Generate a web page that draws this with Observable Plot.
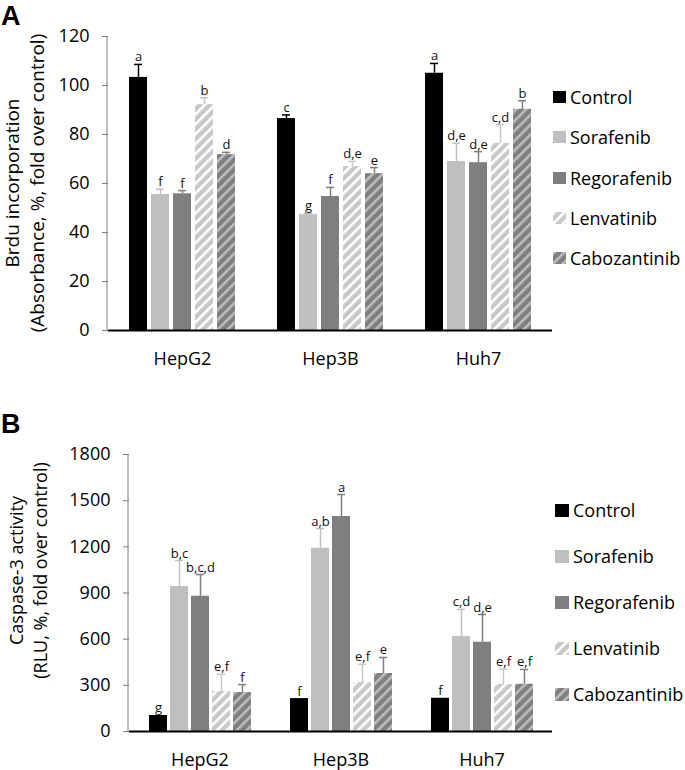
<!DOCTYPE html>
<html><head><meta charset="utf-8">
<script src="https://cdn.jsdelivr.net/npm/d3@7"></script>
<script src="https://cdn.jsdelivr.net/npm/@observablehq/plot@0.6"></script>
<style>
body{margin:0;background:#fff;font-family:"Open Sans",sans-serif;color:#000}
#wrap{position:relative;width:685px;height:770px;overflow:hidden;background:#fff}
.panel{position:absolute;left:0}
.tag{position:absolute;left:0;overflow:visible}
.leg{position:absolute;font-size:18px;display:flex;align-items:center;white-space:nowrap}
.leg svg{margin-right:4px}
</style></head><body>
<svg width="0" height="0" style="position:absolute">
  <defs>
    <pattern id="lenv" patternUnits="userSpaceOnUse" width="7" height="7" patternTransform="rotate(45)">
      <rect width="7" height="7" fill="#c8c8c8"/><rect x="0" width="2.6" height="7" fill="#ffffff"/>
    </pattern>
    <pattern id="cabo" patternUnits="userSpaceOnUse" width="7" height="7" patternTransform="rotate(45)">
      <rect width="7" height="7" fill="#7f7f7f"/><rect x="0" width="2.6" height="7" fill="#bdbdbd"/>
    </pattern>
  </defs>
</svg>
<div id="wrap"></div>
<script>
const cellLines = ["HepG2", "Hep3B", "Huh7"];
const drugs = ["Control", "Sorafenib", "Regorafenib", "Lenvatinib", "Cabozantinib"];
const drugFill = ["#000000", "#bfbfbf", "#7f7f7f", "url(#lenv)", "url(#cabo)"];
const drugErr = ["#000000", "#bfbfbf", "#7f7f7f", "#c8c8c8", "#7f7f7f"];

// Panel A: BrdU incorporation (mean, upper error end, letters), rows = cell lines
const brduMean = [
  [103.3, 55.5, 55.8, 92.2, 71.8],
  [86.5, 47.3, 54.7, 66.9, 64.0],
  [105.0, 69.0, 68.5, 76.4, 90.3]
];
const brduUpper = [
  [108.6, 57.6, 57.1, 95.0, 72.7],
  [88.0, 47.8, 58.4, 69.0, 66.5],
  [109.0, 76.4, 73.0, 84.0, 93.8]
];
const brduLetters = [
  ["a", "f", "f", "b", "d"],
  ["c", "g", "f", "d,e", "e"],
  ["a", "d,e", "d,e", "c,d", "b"]
];
const brduTicks = [0, 20, 40, 60, 80, 100, 120];

// Panel B: Caspase-3 activity
const caspMean = [
  [104, 942, 879, 260, 253],
  [214, 1191, 1397, 318, 377],
  [216, 617, 580, 305, 307]
];
const caspUpper = [
  [104, 1111, 1020, 372, 305],
  [214, 1319, 1540, 437, 481],
  [216, 793, 760, 405, 403]
];
const caspLetters = [
  ["g", "b,c", "b,c,d", "e,f", "f"],
  ["f", "a,b", "a", "e,f", "e"],
  ["f", "c,d", "d,e", "e,f", "e,f"]
];
const caspTicks = [0, 300, 600, 900, 1200, 1500, 1800];

function rowsOf(mean, upper, letters) {
  const out = [];
  cellLines.forEach((line, i) => drugs.forEach((drug, j) => out.push({
    line, drug, value: mean[i][j], upper: upper[i][j], letter: letters[i][j]
  })));
  return out;
}

function makePanel(cfg) {
  const rows = rowsOf(cfg.mean, cfg.upper, cfg.letters);
  const marks = [];
  drugs.forEach((drug, j) => {
    const sub = rows.filter(d => d.drug === drug);
    marks.push(Plot.barY(sub, {fx: "line", x: "drug", y: "value", fill: drugFill[j]}));
    const errs = sub.filter(d => d.upper > d.value);
    marks.push(Plot.ruleX(errs, {fx: "line", x: "drug", y1: "value", y2: "upper", stroke: drugErr[j], strokeWidth: 1.5}));
    marks.push(Plot.tickY(errs, {fx: "line", x: "drug", y: "upper", stroke: drugErr[j], strokeWidth: 1.5, insetLeft: 5, insetRight: 5}));
  });
  marks.push(Plot.text(rows, {fx: "line", x: "drug", y: d => Math.max(d.upper, d.value), text: "letter",
    lineAnchor: "bottom", dy: -3, fontSize: 13, fill: "#111"}));
  marks.push(Plot.ruleY([0], {stroke: "#000", strokeWidth: 2}));
  const plot = Plot.plot({
    width: 560, height: 370,
    marginLeft: cfg.marginLeft, marginRight: 8, marginTop: cfg.marginTop, marginBottom: cfg.marginBottom,
    style: {fontFamily: "Open Sans", fontSize: "18px", color: "#000", background: "transparent", overflow: "visible"},
    fx: {domain: cellLines, padding: 0, label: null, axis: "bottom", tickSize: 0, tickPadding: 22},
    x: {domain: drugs, axis: null, paddingInner: 0.165, paddingOuter: 0.84},
    y: {domain: cfg.yDomain, ticks: cfg.ticks, tickSize: 6, tickPadding: 13, label: null, tickFormat: d => String(d)},
    marks
  });
  const svg = d3.select(plot);
  const y = plot.scale("y");
  const fx = plot.scale("fx");
  const x0 = fx.range[0];
  svg.selectAll('[aria-label="y-axis tick"] path').attr("stroke", "#7f7f7f");
  svg.append("line").attr("x1", x0).attr("x2", x0)
    .attr("y1", y.apply(cfg.yDomain[1])).attr("y2", y.apply(0))
    .attr("stroke", "#7f7f7f").attr("stroke-width", 1);
  const cy = (y.apply(cfg.yDomain[1]) + y.apply(0)) / 2 + cfg.titleShift;
  cfg.titles.forEach((t, k) => {
    svg.append("text").attr("transform", `translate(${cfg.titleX[k]},${cy}) rotate(-90)`)
      .attr("text-anchor", "middle").attr("dominant-baseline", "central")
      .attr("font-size", cfg.titleSize).attr("fill", "#000").text(t);
  });
  return plot;
}

const wrap = document.getElementById("wrap");

function addPanel(cfg) {
  const plot = makePanel(cfg);
  const div = document.createElement("div");
  div.className = "panel";
  div.style.top = cfg.top + "px";
  div.appendChild(plot);
  wrap.appendChild(div);
  const tag = document.createElementNS("http://www.w3.org/2000/svg", "svg");
  tag.setAttribute("class", "tag");
  tag.setAttribute("width", 40);
  tag.setAttribute("height", 34);
  tag.style.top = cfg.tagTop + "px";
  tag.innerHTML = `<text x="1" y="25" font-family="Liberation Sans" font-weight="700" font-size="27" fill="#000">${cfg.tag}</text>`;
  wrap.appendChild(tag);
  drugs.forEach((drug, j) => {
    const item = document.createElement("div");
    item.className = "leg";
    item.style.left = cfg.legX + "px";
    item.style.top = (cfg.legY + j * cfg.legStep - 13) + "px";
    item.style.height = "26px";
    item.innerHTML = `<svg width="${cfg.sw}" height="${cfg.sh}"><rect width="${cfg.sw}" height="${cfg.sh}" fill="${drugFill[j]}"/></svg><span>${drug}</span>`;
    wrap.appendChild(item);
  });
}

addPanel({
  tag: "A", tagTop: 0, top: 0,
  mean: brduMean, upper: brduUpper, letters: brduLetters,
  yDomain: [0, 120], ticks: brduTicks,
  marginLeft: 107, marginTop: 36, marginBottom: 40,
  titles: ["Brdu incorporation", "(Absorbance, %, fold over control)"], titleX: [12, 37], titleSize: 19, titleShift: 0,
  legX: 553, legY: 97, legStep: 40.3, sw: 13, sh: 12
});
addPanel({
  tag: "B", tagTop: 408, top: 400,
  mean: caspMean, upper: caspUpper, letters: caspLetters,
  yDomain: [0, 1800], ticks: caspTicks,
  marginLeft: 128, marginTop: 54, marginBottom: 39,
  titles: ["Caspase-3 activity", "(RLU, %, fold over control)"], titleX: [16, 40], titleSize: 18, titleShift: -22,
  legX: 555, legY: 510, legStep: 46, sw: 14, sh: 13
});
</script>
</body></html>
